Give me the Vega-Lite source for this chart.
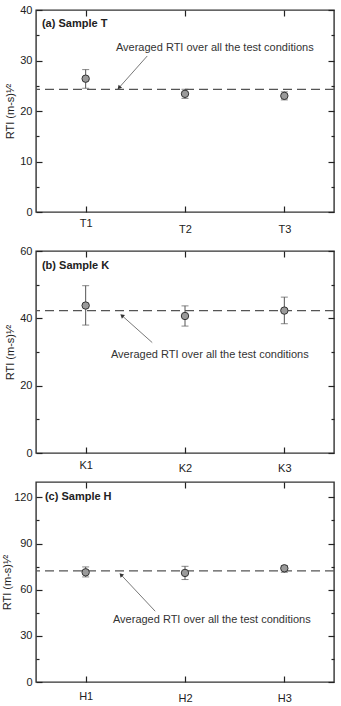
{
  "$schema": "https://vega.github.io/schema/vega-lite/v6.json",
  "background": "white",
  "padding": {"left": 0, "top": 3, "right": 6, "bottom": 1},
  "config": {
    "font": "Liberation Sans",
    "view": {"stroke": "#333", "strokeWidth": 1.4},
    "axis": {
      "domain": false,
      "grid": false,
      "ticks": true,
      "labelFont": "Liberation Sans",
      "labelFontSize": 11,
      "labelColor": "#222",
      "tickColor": "#222",
      "tickWidth": 1.2,
      "tickOpacity": 1,
      "titleFont": "Liberation Sans",
      "titleFontSize": 11,
      "titleFontWeight": "normal",
      "titleColor": "#222"
    }
  },
  "datasets": {
    "sampleT": [
      {"idx": 1, "rti": 26.4, "lo": 24.5, "hi": 28.2},
      {"idx": 2, "rti": 23.4, "lo": 22.5, "hi": 24.3},
      {"idx": 3, "rti": 23.0, "lo": 22.2, "hi": 23.8}
    ],
    "sampleK": [
      {"idx": 1, "rti": 43.8, "lo": 38.0, "hi": 49.7},
      {"idx": 2, "rti": 40.7, "lo": 37.7, "hi": 43.7},
      {"idx": 3, "rti": 42.3, "lo": 38.4, "hi": 46.3}
    ],
    "sampleH": [
      {"idx": 1, "rti": 71.3, "lo": 68.3, "hi": 74.8},
      {"idx": 2, "rti": 70.9, "lo": 66.6, "hi": 75.2},
      {"idx": 3, "rti": 73.9, "lo": 71.3, "hi": 75.7}
    ],
    "averages": [
      {"sample": "T", "rti": 24.3},
      {"sample": "K", "rti": 42.3},
      {"sample": "H", "rti": 72.2}
    ],
    "headings": [
      {"sample": "T", "x": 0.56, "y": 37.2, "text": "(a) Sample T"},
      {"sample": "K", "x": 0.56, "y": 55.6, "text": "(b) Sample K"},
      {"sample": "H", "x": 0.59, "y": 120, "text": "(c) Sample H"}
    ],
    "notes": [
      {"sample": "T", "x": 2.3, "y": 32.5, "text": "Averaged RTI over all the test conditions"},
      {"sample": "K", "x": 2.25, "y": 29.0, "text": "Averaged RTI over all the test conditions"},
      {"sample": "H", "x": 2.27, "y": 40.2, "text": "Averaged RTI over all the test conditions"}
    ],
    "arrows": [
      {"sample": "T", "x": 1.62, "y": 30.9, "x2": 1.34, "y2": 24.7},
      {"sample": "K", "x": 1.67, "y": 32.8, "x2": 1.37, "y2": 40.7},
      {"sample": "H", "x": 1.70, "y": 46.0, "x2": 1.36, "y2": 69.4}
    ]
  },
  "columns": 1,
  "align": "none",
  "spacing": 9,
  "concat": [
    {
      "width": 298,
      "height": 202,
      "resolve": {"axis": {"x": "independent", "y": "independent"}},
      "layer": [
        {
          "data": {"name": "sampleT"},
          "mark": {"type": "rule", "color": "#555", "strokeWidth": 1},
          "encoding": {
            "x": {"field": "idx", "type": "quantitative", "scale": {"domain": [0.5, 3.5], "nice": false, "zero": false},
              "axis": {"orient": "bottom", "values": [1, 2, 3], "labelExpr": "'T' + datum.value", "offset": -6, "ticks": true, "tickSize": 6, "labelPadding": {"condition": {"test": "datum.value == 1", "value": 5}, "value": 11}, "title": null}},
            "y": {"field": "lo", "type": "quantitative", "scale": {"domain": [0, 40], "nice": false, "zero": true},
              "axis": {"orient": "left", "values": [0, 10, 20, 30, 40], "offset": -6, "ticks": true, "tickSize": 6, "labelPadding": 4, "title": "RTI (m-s)¹⁄²", "titlePadding": 4}},
            "y2": {"field": "hi"}
          }
        },
        {
          "data": {"name": "sampleT"},
          "mark": {"type": "tick", "orient": "horizontal", "size": 7, "thickness": 1, "color": "#555"},
          "encoding": {
            "x": {"field": "idx", "type": "quantitative", "axis": {"orient": "top", "values": [1, 2, 3], "labels": false, "offset": -6, "ticks": true, "tickSize": 6, "title": null}},
            "y": {"field": "lo", "type": "quantitative", "axis": {"orient": "right", "values": [0, 10, 20, 30, 40], "labels": false, "offset": -6, "ticks": true, "tickSize": 6, "title": null}}
          }
        },
        {
          "data": {"name": "sampleT"},
          "mark": {"type": "tick", "orient": "horizontal", "size": 7, "thickness": 1, "color": "#555"},
          "encoding": {
            "x": {"field": "idx", "type": "quantitative", "axis": null},
            "y": {"field": "hi", "type": "quantitative", "axis": {"orient": "left", "values": [5, 15, 25, 35], "labels": false, "offset": -3, "ticks": true, "tickSize": 3, "title": null}}
          }
        },
        {
          "data": {"name": "averages"},
          "transform": [{"filter": "datum.sample == 'T'"}],
          "mark": {"type": "rule", "color": "#555", "strokeWidth": 1.2, "strokeDash": [9, 5]},
          "encoding": {"y": {"field": "rti", "type": "quantitative", "axis": {"orient": "right", "values": [5, 15, 25, 35], "labels": false, "offset": -3, "ticks": true, "tickSize": 3, "title": null}}}
        },
        {
          "data": {"name": "sampleT"},
          "mark": {"type": "point", "shape": "circle", "filled": true, "fill": "#9a9a9a", "stroke": "#333", "strokeWidth": 1, "opacity": 1, "size": 55},
          "encoding": {
            "x": {"field": "idx", "type": "quantitative", "axis": null},
            "y": {"field": "rti", "type": "quantitative", "axis": null}
          }
        },
        {
          "data": {"name": "headings"},
          "transform": [{"filter": "datum.sample == 'T'"}],
          "mark": {"type": "text", "align": "left", "baseline": "middle", "fontSize": 11, "fontWeight": "bold", "color": "#222"},
          "encoding": {
            "x": {"field": "x", "type": "quantitative", "axis": null},
            "y": {"field": "y", "type": "quantitative", "axis": null},
            "text": {"field": "text"}
          }
        },
        {
          "data": {"name": "notes"},
          "transform": [{"filter": "datum.sample == 'T'"}],
          "mark": {"type": "text", "align": "center", "baseline": "middle", "fontSize": 11, "color": "#333"},
          "encoding": {
            "x": {"field": "x", "type": "quantitative", "axis": null},
            "y": {"field": "y", "type": "quantitative", "axis": null},
            "text": {"field": "text"}
          }
        },
        {
          "data": {"name": "arrows"},
          "transform": [{"filter": "datum.sample == 'T'"}],
          "mark": {"type": "rule", "color": "#555", "strokeWidth": 0.8},
          "encoding": {
            "x": {"field": "x", "type": "quantitative", "axis": null},
            "y": {"field": "y", "type": "quantitative", "axis": null},
            "x2": {"field": "x2"},
            "y2": {"field": "y2"}
          }
        },
        {
          "data": {"name": "arrows"},
          "transform": [{"filter": "datum.sample == 'T'"}],
          "mark": {"type": "point", "shape": "triangle", "filled": true, "color": "#333", "opacity": 1, "size": 22, "angle": 222},
          "encoding": {
            "x": {"field": "x2", "type": "quantitative", "axis": null},
            "y": {"field": "y2", "type": "quantitative", "axis": null}
          }
        }
      ]
    },
    {
      "columns": 1,
      "align": "none",
      "spacing": 6,
      "concat": [
        {
          "width": 298,
          "height": 202,
          "resolve": {"axis": {"x": "independent", "y": "independent"}},
          "layer": [
            {
              "data": {"name": "sampleK"},
              "mark": {"type": "rule", "color": "#555", "strokeWidth": 1},
              "encoding": {
                "x": {"field": "idx", "type": "quantitative", "scale": {"domain": [0.5, 3.5], "nice": false, "zero": false},
                  "axis": {"orient": "bottom", "values": [1, 2, 3], "labelExpr": "'K' + datum.value", "offset": -6, "ticks": true, "tickSize": 6, "labelPadding": {"condition": {"test": "datum.value == 1", "value": 6}, "value": 9}, "title": null}},
                "y": {"field": "lo", "type": "quantitative", "scale": {"domain": [0, 60], "nice": false, "zero": true},
                  "axis": {"orient": "left", "values": [0, 20, 40, 60], "offset": -6, "ticks": true, "tickSize": 6, "labelPadding": 4, "title": "RTI (m-s)¹⁄²", "titlePadding": 4}},
                "y2": {"field": "hi"}
              }
            },
            {
              "data": {"name": "sampleK"},
              "mark": {"type": "tick", "orient": "horizontal", "size": 7, "thickness": 1, "color": "#555"},
              "encoding": {
                "x": {"field": "idx", "type": "quantitative", "axis": {"orient": "top", "values": [1, 2, 3], "labels": false, "offset": -6, "ticks": true, "tickSize": 6, "title": null}},
                "y": {"field": "lo", "type": "quantitative", "axis": {"orient": "right", "values": [0, 20, 40, 60], "labels": false, "offset": -6, "ticks": true, "tickSize": 6, "title": null}}
              }
            },
            {
              "data": {"name": "sampleK"},
              "mark": {"type": "tick", "orient": "horizontal", "size": 7, "thickness": 1, "color": "#555"},
              "encoding": {
                "x": {"field": "idx", "type": "quantitative", "axis": null},
                "y": {"field": "hi", "type": "quantitative", "axis": {"orient": "left", "values": [10, 30, 50], "labels": false, "offset": -3, "ticks": true, "tickSize": 3, "title": null}}
              }
            },
            {
              "data": {"name": "averages"},
              "transform": [{"filter": "datum.sample == 'K'"}],
              "mark": {"type": "rule", "color": "#555", "strokeWidth": 1.2, "strokeDash": [9, 5]},
              "encoding": {"y": {"field": "rti", "type": "quantitative", "axis": {"orient": "right", "values": [10, 30, 50], "labels": false, "offset": -3, "ticks": true, "tickSize": 3, "title": null}}}
            },
            {
              "data": {"name": "sampleK"},
              "mark": {"type": "point", "shape": "circle", "filled": true, "fill": "#9a9a9a", "stroke": "#333", "strokeWidth": 1, "opacity": 1, "size": 55},
              "encoding": {
                "x": {"field": "idx", "type": "quantitative", "axis": null},
                "y": {"field": "rti", "type": "quantitative", "axis": null}
              }
            },
            {
              "data": {"name": "headings"},
              "transform": [{"filter": "datum.sample == 'K'"}],
              "mark": {"type": "text", "align": "left", "baseline": "middle", "fontSize": 11, "fontWeight": "bold", "color": "#222"},
              "encoding": {
                "x": {"field": "x", "type": "quantitative", "axis": null},
                "y": {"field": "y", "type": "quantitative", "axis": null},
                "text": {"field": "text"}
              }
            },
            {
              "data": {"name": "notes"},
              "transform": [{"filter": "datum.sample == 'K'"}],
              "mark": {"type": "text", "align": "center", "baseline": "middle", "fontSize": 11, "color": "#333"},
              "encoding": {
                "x": {"field": "x", "type": "quantitative", "axis": null},
                "y": {"field": "y", "type": "quantitative", "axis": null},
                "text": {"field": "text"}
              }
            },
            {
              "data": {"name": "arrows"},
              "transform": [{"filter": "datum.sample == 'K'"}],
              "mark": {"type": "rule", "color": "#555", "strokeWidth": 0.8},
              "encoding": {
                "x": {"field": "x", "type": "quantitative", "axis": null},
                "y": {"field": "y", "type": "quantitative", "axis": null},
                "x2": {"field": "x2"},
                "y2": {"field": "y2"}
              }
            },
            {
              "data": {"name": "arrows"},
              "transform": [{"filter": "datum.sample == 'K'"}],
              "mark": {"type": "point", "shape": "triangle", "filled": true, "color": "#333", "opacity": 1, "size": 22, "angle": 311},
              "encoding": {
                "x": {"field": "x2", "type": "quantitative", "axis": null},
                "y": {"field": "y2", "type": "quantitative", "axis": null}
              }
            }
          ]
        },
        {
          "width": 298,
          "height": 200,
          "resolve": {"axis": {"x": "independent", "y": "independent"}},
          "layer": [
            {
              "data": {"name": "sampleH"},
              "mark": {"type": "rule", "color": "#555", "strokeWidth": 1},
              "encoding": {
                "x": {"field": "idx", "type": "quantitative", "scale": {"domain": [0.5, 3.5], "nice": false, "zero": false},
                  "axis": {"orient": "bottom", "values": [1, 2, 3], "labelExpr": "'H' + datum.value", "offset": -6, "ticks": true, "tickSize": 6, "labelPadding": {"condition": {"test": "datum.value == 1", "value": 8}, "value": 10}, "title": null}},
                "y": {"field": "lo", "type": "quantitative", "scale": {"domain": [0, 130], "nice": false, "zero": true},
                  "axis": {"orient": "left", "values": [0, 30, 60, 90, 120], "offset": -6, "ticks": true, "tickSize": 6, "labelPadding": 4, "title": "RTI (m-s)¹⁄²", "titlePadding": 1}},
                "y2": {"field": "hi"}
              }
            },
            {
              "data": {"name": "sampleH"},
              "mark": {"type": "tick", "orient": "horizontal", "size": 7, "thickness": 1, "color": "#555"},
              "encoding": {
                "x": {"field": "idx", "type": "quantitative", "axis": {"orient": "top", "values": [1, 2, 3], "labels": false, "offset": -6, "ticks": true, "tickSize": 6, "title": null}},
                "y": {"field": "lo", "type": "quantitative", "axis": {"orient": "right", "values": [0, 30, 60, 90, 120], "labels": false, "offset": -6, "ticks": true, "tickSize": 6, "title": null}}
              }
            },
            {
              "data": {"name": "sampleH"},
              "mark": {"type": "tick", "orient": "horizontal", "size": 7, "thickness": 1, "color": "#555"},
              "encoding": {
                "x": {"field": "idx", "type": "quantitative", "axis": null},
                "y": {"field": "hi", "type": "quantitative", "axis": {"orient": "left", "values": [15, 45, 75, 105], "labels": false, "offset": -3, "ticks": true, "tickSize": 3, "title": null}}
              }
            },
            {
              "data": {"name": "averages"},
              "transform": [{"filter": "datum.sample == 'H'"}],
              "mark": {"type": "rule", "color": "#555", "strokeWidth": 1.2, "strokeDash": [9, 5]},
              "encoding": {"y": {"field": "rti", "type": "quantitative", "axis": {"orient": "right", "values": [15, 45, 75, 105], "labels": false, "offset": -3, "ticks": true, "tickSize": 3, "title": null}}}
            },
            {
              "data": {"name": "sampleH"},
              "mark": {"type": "point", "shape": "circle", "filled": true, "fill": "#9a9a9a", "stroke": "#333", "strokeWidth": 1, "opacity": 1, "size": 55},
              "encoding": {
                "x": {"field": "idx", "type": "quantitative", "axis": null},
                "y": {"field": "rti", "type": "quantitative", "axis": null}
              }
            },
            {
              "data": {"name": "headings"},
              "transform": [{"filter": "datum.sample == 'H'"}],
              "mark": {"type": "text", "align": "left", "baseline": "middle", "fontSize": 11, "fontWeight": "bold", "color": "#222"},
              "encoding": {
                "x": {"field": "x", "type": "quantitative", "axis": null},
                "y": {"field": "y", "type": "quantitative", "axis": null},
                "text": {"field": "text"}
              }
            },
            {
              "data": {"name": "notes"},
              "transform": [{"filter": "datum.sample == 'H'"}],
              "mark": {"type": "text", "align": "center", "baseline": "middle", "fontSize": 11, "color": "#333"},
              "encoding": {
                "x": {"field": "x", "type": "quantitative", "axis": null},
                "y": {"field": "y", "type": "quantitative", "axis": null},
                "text": {"field": "text"}
              }
            },
            {
              "data": {"name": "arrows"},
              "transform": [{"filter": "datum.sample == 'H'"}],
              "mark": {"type": "rule", "color": "#555", "strokeWidth": 0.8},
              "encoding": {
                "x": {"field": "x", "type": "quantitative", "axis": null},
                "y": {"field": "y", "type": "quantitative", "axis": null},
                "x2": {"field": "x2"},
                "y2": {"field": "y2"}
              }
            },
            {
              "data": {"name": "arrows"},
              "transform": [{"filter": "datum.sample == 'H'"}],
              "mark": {"type": "point", "shape": "triangle", "filled": true, "color": "#333", "opacity": 1, "size": 22, "angle": 317},
              "encoding": {
                "x": {"field": "x2", "type": "quantitative", "axis": null},
                "y": {"field": "y2", "type": "quantitative", "axis": null}
              }
            }
          ]
        }
      ]
    }
  ]
}
